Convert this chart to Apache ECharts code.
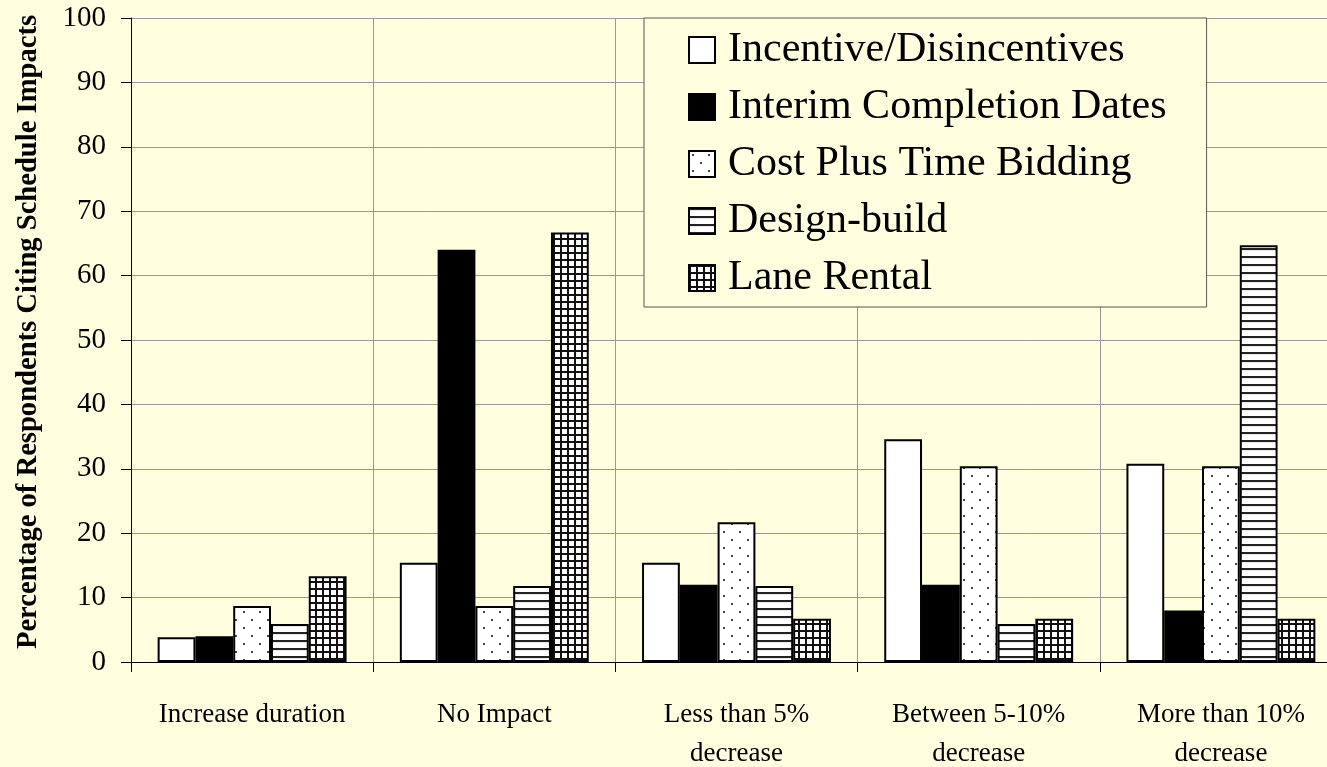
<!DOCTYPE html>
<html>
<head>
<meta charset="utf-8">
<style>
  html, body { margin: 0; padding: 0; background: #FFFFE0; }
  #chart { width: 1327px; height: 767px; }
</style>
<script src="https://cdn.jsdelivr.net/npm/echarts@6/dist/echarts.min.js"></script>
</head>
<body>
<div id="chart"></div>
<script>
// Survey responses: share of respondents citing each schedule impact, by contracting method
const categories = ['Increase duration', 'No Impact', 'Less than 5%\ndecrease', 'Between 5-10%\ndecrease', 'More than 10%\ndecrease'];
const incentiveDisincentives = [3.85, 15.4, 15.4, 34.6, 30.8];
const interimCompletionDates = [4, 64, 12, 12, 8];
const costPlusTimeBidding = [8.7, 8.7, 21.7, 30.4, 30.4];
const designBuild = [5.9, 11.8, 11.8, 5.9, 64.7];
const laneRental = [13.3, 66.7, 6.7, 6.7, 6.7];
const yTicks = { min: 0, max: 100, interval: 10 };
const seriesNames = ['Incentive/Disincentives', 'Interim Completion Dates', 'Cost Plus Time Bidding', 'Design-build', 'Lane Rental'];

const FONT = '"Liberation Serif", "Times New Roman", serif';

// Monochrome fill patterns drawn on small tiles
function tile(w, h, draw) {
  const c = document.createElement('canvas');
  c.width = w; c.height = h;
  const ctx = c.getContext('2d');
  ctx.fillStyle = '#ffffff';
  ctx.fillRect(0, 0, w, h);
  draw(ctx);
  return { image: c, repeat: 'repeat' };
}
const dotFill = tile(16, 16, ctx => {
  ctx.fillStyle = '#444';
  ctx.fillRect(3, 3, 2, 2);
  ctx.fillRect(11, 11, 2, 2);
});
const hLineFill = tile(8, 8, ctx => {
  ctx.fillStyle = '#e8e8e8';
  ctx.fillRect(0, 2, 8, 1);
  ctx.fillStyle = '#222';
  ctx.fillRect(0, 0, 8, 2);
});
const gridFill = tile(7, 7, ctx => {
  ctx.fillStyle = '#111';
  ctx.fillRect(0, 0, 7, 2);
  ctx.fillRect(0, 0, 2, 7);
});

const fills = ['#ffffff', '#000000', dotFill, hLineFill, gridFill];
const values = [incentiveDisincentives, interimCompletionDates, costPlusTimeBidding, designBuild, laneRental];

const chart = echarts.init(document.getElementById('chart'), null, { renderer: 'canvas' });
chart.setOption({
  backgroundColor: '#FFFFE0',
  animation: false,
  // plot area runs slightly past the right edge of the canvas
  grid: { left: 131, top: 18, width: 1211, height: 644, containLabel: false, outerBoundsMode: 'none' },
  legend: {
    orient: 'vertical',
    left: 644,
    top: 18,
    padding: [11, 40, 8, 44],
    itemWidth: 26,
    itemHeight: 26,
    itemGap: 15,
    borderColor: '#555',
    borderWidth: 1,
    backgroundColor: '#FFFFE0',
    icon: 'rect',
    data: seriesNames,
    textStyle: { fontFamily: FONT, fontSize: 42, lineHeight: 40, color: '#000', padding: [0, 0, 0, 8] }
  },
  xAxis: {
    type: 'category',
    data: categories,
    axisLine: { lineStyle: { color: '#000', width: 1 } },
    axisTick: { show: true, length: 10, lineStyle: { color: '#000' } },
    splitLine: { show: true, lineStyle: { color: '#999', width: 1 } },
    axisLabel: { fontFamily: FONT, fontSize: 27, lineHeight: 39, color: '#000', margin: 33, interval: 0 }
  },
  yAxis: {
    type: 'value',
    min: yTicks.min,
    max: yTicks.max,
    interval: yTicks.interval,
    name: 'Percentage of Respondents Citing Schedule Impacts',
    nameLocation: 'middle',
    nameGap: 88,
    nameTextStyle: { fontFamily: FONT, fontSize: 28.6, fontWeight: 'bold', color: '#000', padding: [0, 0, 0, 16] },
    axisLine: { show: true, lineStyle: { color: '#000', width: 1 } },
    axisTick: { show: true, length: 10, lineStyle: { color: '#000' } },
    splitLine: { show: true, lineStyle: { color: '#999', width: 1 } },
    axisLabel: { fontFamily: FONT, fontSize: 29, color: '#000', margin: 25 }
  },
  series: seriesNames.map((name, i) => ({
    name,
    type: 'bar',
    data: values[i],
    barGap: '0%',
    barCategoryGap: '22%',
    itemStyle: { color: fills[i], borderColor: '#000', borderWidth: 2 }
  }))
});
</script>
</body>
</html>
